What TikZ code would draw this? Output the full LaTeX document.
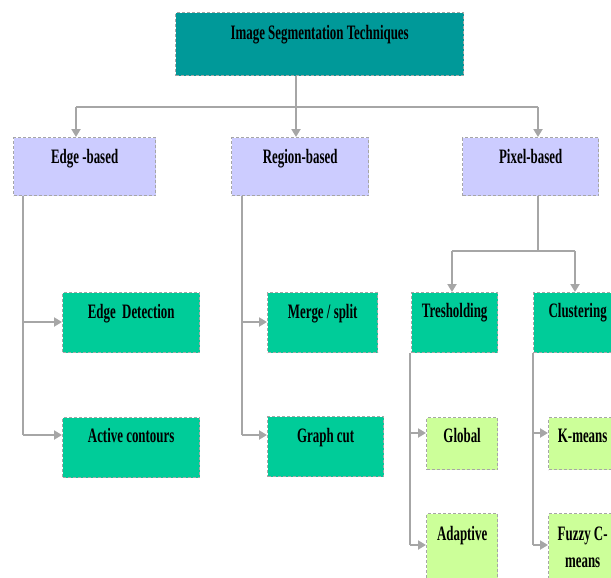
\documentclass[tikz,border=0pt]{standalone}
\usepackage{fontspec}
\setmainfont{Liberation Serif}[FakeStretch=0.63]
\usetikzlibrary{arrows.meta,calc}
\definecolor{teal1}{HTML}{009999}
\definecolor{lav}{HTML}{CCCCFF}
\definecolor{grn}{HTML}{00CC99}
\definecolor{lgrn}{HTML}{CCFF99}
\definecolor{lgray}{HTML}{A6A6A6}
\tikzset{
  bx/.style={draw=lgray, dashed, dash pattern=on 3pt off 2pt, line width=1.3pt, rectangle, anchor=north west, inner sep=0pt,
    font=\bfseries\fontsize{20.5}{27}\selectfont, align=center},
  conn/.style={draw=lgray, line width=2.6pt},
  arr/.style={conn, -{Triangle[length=8pt,width=9pt]}},
}
\begin{document}
\begin{tikzpicture}[x=1pt,y=-1pt]
\clip (0,0) rectangle (611,578);
\fill[white] (0,0) rectangle (611,578);
% level 0
\node[bx, fill=teal1, minimum width=288pt, text height=27pt, text depth=36pt] (title) at (175,12) {Image Segmentation Techniques};
% level 1
\node[bx, fill=lav, minimum width=142pt, text height=26pt, text depth=32pt] (eb) at (13,137) {Edge -based};
\node[bx, fill=lav, minimum width=137pt, text height=26pt, text depth=32pt] (rb) at (231,137) {Region-based};
\node[bx, fill=lav, minimum width=136pt, text height=26pt, text depth=32pt] (pb) at (462,137) {Pixel-based};
% level 2
\node[bx, fill=grn, minimum width=137pt, text height=26pt, text depth=34pt] (ed) at (62,292) {Edge\ \ Detection};
\node[bx, fill=grn, minimum width=137pt, text height=25pt, text depth=35pt] (ac) at (62,417) {Active contours};
\node[bx, fill=grn, minimum width=110pt, text height=26pt, text depth=34pt] (ms) at (267,292) {Merge / split};
\node[bx, fill=grn, minimum width=116pt, text height=26pt, text depth=34pt] (gc) at (267,416) {Graph cut};
\node[bx, fill=grn, minimum width=86pt, text height=25pt, text depth=35pt] (th) at (411,292) {Tresholding};
\node[bx, fill=grn, minimum width=88pt, text height=25pt, text depth=35pt] (cl) at (533,292) {Clustering};
% level 3
\node[bx, fill=lgrn, minimum width=71pt, text height=25pt, text depth=27pt] (gl) at (426,417) {Global};
\node[bx, fill=lgrn, minimum width=71pt, text height=27pt, text depth=60pt] (ad) at (426,513) {Adaptive};
\node[bx, fill=lgrn, minimum width=68pt, text height=54pt, text depth=33pt] (fz) at (548,513) {Fuzzy C-\\means};
\node[bx, fill=lgrn, minimum width=68pt, text height=25pt, text depth=27pt] (km) at (548,417) {K-means};
% junction coordinates
\coordinate (j0) at (296,107);
\coordinate (jE) at (76,107);
\coordinate (jP) at (538,107);
\coordinate (eT) at (23,322);
\coordinate (eB) at (23,435);
\coordinate (rT) at (242,322);
\coordinate (rB) at (242,435);
\coordinate (pJ) at (538,251);
\coordinate (pL) at (452,251);
\coordinate (pR) at (575,251);
\coordinate (tT) at (410,433);
\coordinate (tB) at (410,545);
\coordinate (cT) at (533,433);
\coordinate (cB) at (533,545);
% connectors
\draw[arr] (j0 |- title.south) -- (j0 |- rb.north);
\draw[conn] (jE) -- (jP);
\draw[arr] (jE) -- (jE |- eb.north);
\draw[arr] (jP) -- (jP |- pb.north);
\draw[conn] (eT |- eb.south) -- (eB);
\draw[arr] (eT) -- (eT -| ed.west);
\draw[arr] (eB) -- (eB -| ac.west);
\draw[conn] (rT |- rb.south) -- (rB);
\draw[arr] (rT) -- (rT -| ms.west);
\draw[arr] (rB) -- (rB -| gc.west);
\draw[conn] (pJ |- pb.south) -- (pJ);
\draw[conn] (pL) -- (pR);
\draw[arr] (pL) -- (pL |- th.north);
\draw[arr] (pR) -- (pR |- cl.north);
\draw[conn] (tT |- th.south) -- (tB);
\draw[arr] (tT) -- (tT -| gl.west);
\draw[arr] (tB) -- (tB -| ad.west);
\draw[conn] (cT |- cl.south) -- (cB);
\draw[arr] (cT) -- (cT -| km.west);
\draw[arr] (cB) -- (cB -| fz.west);
\end{tikzpicture}
\end{document}
